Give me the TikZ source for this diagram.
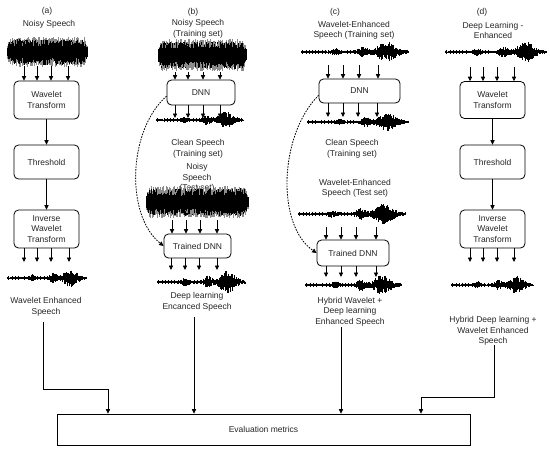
\documentclass[tikz,border=0pt]{standalone}
\usepackage{fontspec}
\setmainfont{Liberation Sans}
\usetikzlibrary{arrows.meta}
% noisy waveform: x1, x2, y-centre, amplitude, seed
\newcommand{\noisywave}[5]{%
  \pgfmathsetseed{#5}%
  \pgfmathtruncatemacro{\nwn}{(#2-#1)/0.4}%
  \foreach \k in {0,...,\nwn}{%
    \pgfmathsetmacro{\xx}{#1+0.4*\k}%
    \pgfmathsetmacro{\wenv}{min(1,min((\xx-#1)/6+0.45,(#2-\xx)/6+0.45))}%
    \pgfmathsetmacro{\aup}{#4*\wenv*(0.5+0.5*rnd)}%
    \pgfmathsetmacro{\adn}{#4*\wenv*(0.5+0.5*rnd)}%
    \draw[black!45,line width=0.45pt] (\xx,#3-\aup) -- (\xx,#3+\adn);
    \pgfmathsetmacro{\bup}{#4*\wenv*(0.4+0.45*rnd)}%
    \pgfmathsetmacro{\bdn}{#4*\wenv*(0.4+0.45*rnd)}%
    \draw[black,line width=0.6pt] (\xx,#3-\bup) -- (\xx,#3+\bdn);
  }%
}
% enhanced / clean waveform: x1, x2, y-centre, amplitude, seed
\newcommand{\cleanwave}[5]{%
  \pgfmathsetseed{#5}%
  \draw[black,line width=0.8pt] (#1,#3) -- (#2,#3);
  \pgfmathtruncatemacro{\cwn}{(#2-#1)/0.5}%
  \foreach \k in {0,...,\cwn}{%
    \pgfmathsetmacro{\xx}{#1+0.5*\k}%
    \pgfmathsetmacro{\tpos}{(\xx-#1)/(#2-#1)}%
    \pgfmathsetmacro{\wenv}{0.16+0.3*exp(-min(9,((\tpos-0.32)/0.04)^2))+0.5*exp(-min(9,((\tpos-0.58)/0.05)^2))+exp(-min(9,((\tpos-0.8)/0.1)^2))}%
    \pgfmathsetmacro{\aup}{#4*\wenv*(0.25+0.75*rnd)}%
    \pgfmathsetmacro{\adn}{#4*\wenv*(0.25+0.75*rnd)}%
    \draw[black,line width=0.45pt] (\xx,#3-\aup) -- (\xx,#3+\adn);
  }%
  \pgfmathtruncatemacro{\twn}{(#2-#1)/3.2}%
  \foreach \k in {1,...,\twn}{%
    \pgfmathsetmacro{\xx}{#1+3.2*\k-1.5}%
    \pgfmathsetmacro{\th}{1.4+1.0*rnd}%
    \draw[black,line width=0.7pt] (\xx,#3-\th) -- (\xx,#3+\th);
  }%
}
\begin{document}
\begin{tikzpicture}[x=1pt,y=-1pt,
  txt/.style={font=\fontsize{8.5}{10.5}\selectfont, text=black!85, align=center, inner sep=0pt},
  box/.style={draw, rounded corners=4.5pt, line width=0.8pt, font=\fontsize{8.5}{10.5}\selectfont, text=black!85, align=center, inner sep=0pt},
  arr/.style={-{Triangle[length=4.5pt,width=4.2pt]}, line width=0.8pt},
  dotarr/.style={-{Triangle[length=4.5pt,width=4.2pt]}, dash pattern=on 1.6pt off 1.2pt, line width=0.8pt}]
\fill[white] (0,0) rectangle (550,453);
\useasboundingbox (0,0) rectangle (550,453);

% ---------------- (a)
\node[txt] (alab) at (47,11) {(a)};
\node[txt] (aname) at (49,24) {Noisy Speech};
\noisywave{7}{87}{52}{15}{11}
\node[box, minimum width=65pt, minimum height=38pt] (awt) at (46.5,100) {Wavelet\\Transform};
\node[box, minimum width=65pt, minimum height=34pt] (ath) at (46.5,162) {Threshold};
\node[box, minimum width=65pt, minimum height=38pt] (aiwt) at (46.5,229) {Inverse\\Wavelet\\Transform};
\foreach \x in {24,37,51,68}{\coordinate (t) at (\x,66); \draw[arr] (t) -- (t |- awt.north);}
\draw[arr] (awt) -- (ath);
\draw[arr] (ath) -- (aiwt);
\foreach \x in {24,37,51,69}{\coordinate (t) at (\x,262); \draw[arr] (t |- aiwt.south) -- (t);}
\cleanwave{7}{86}{278}{8}{12}
\node[txt] (aout) at (46,307) {Wavelet Enhanced\\Speech};

% ---------------- (b)
\node[txt] (blab) at (193,12) {(b)};
\node[txt] (bname) at (198,29) {Noisy Speech\\(Training set)};
\noisywave{158}{246}{55}{16}{21}
\node[box, minimum width=68pt, minimum height=25pt] (bdnn) at (201,92.5) {DNN};
\foreach \x in {175,188,203,220}{\coordinate (t) at (\x,72); \draw[arr] (t) -- (t |- bdnn.north);}
\cleanwave{156}{243}{120}{8}{22}
\foreach \x in {175,188,203,220}{\coordinate (t) at (\x,118); \draw[arr] (t |- bdnn.south) -- (t);}
\node[txt] (bclean) at (198,149) {Clean Speech\\(Training set)};
\node[txt] (btest) at (197,178) {Noisy\\Speech\\(Test set)};
\noisywave{146}{248}{202}{16}{23}
\node[box, minimum width=67pt, minimum height=24pt] (btdnn) at (197.5,246) {Trained DNN};
\foreach \x in {172,186,200,217}{\coordinate (t) at (\x,220); \draw[arr] (t) -- (t |- btdnn.north);}
\cleanwave{157}{245}{282}{10}{24}
\foreach \x in {171,185,199,217}{\coordinate (t) at (\x,270); \draw[arr] (t |- btdnn.south) -- (t);}
\node[txt] (bout) at (197,302) {Deep learning\\Encanced Speech};
\draw[dotarr] (bdnn.186) .. controls (128,130) and (125,215) .. (btdnn.west);

% ---------------- (c)
\node[txt] (clab) at (335,12) {(c)};
\node[txt] (cname) at (354,30.5) {Wavelet-Enhanced\\Speech (Training set)};
\cleanwave{301}{408}{52}{9}{31}
\node[box, minimum width=81pt, minimum height=24pt] (cdnn) at (359.5,91) {DNN};
\foreach \x in {328,343,359,378}{\coordinate (t) at (\x,65); \draw[arr] (t) -- (t |- cdnn.north);}
\cleanwave{307}{408}{122}{8}{32}
\foreach \x in {328,343,358,377}{\coordinate (t) at (\x,117); \draw[arr] (t |- cdnn.south) -- (t);}
\node[txt] (cclean) at (352,149) {Clean Speech\\(Training set)};
\node[txt] (ctest) at (355,188.5) {Wavelet-Enhanced\\Speech (Test set)};
\cleanwave{298}{405}{214}{9}{33}
\node[box, minimum width=72pt, minimum height=26pt] (ctdnn) at (353,253) {Trained DNN};
\foreach \x in {326,341,356,376}{\coordinate (t) at (\x,227); \draw[arr] (t) -- (t |- ctdnn.north);}
\cleanwave{305}{401}{285}{9}{34}
\foreach \x in {326,341,356,376}{\coordinate (t) at (\x,277); \draw[arr] (t |- ctdnn.south) -- (t);}
\node[txt] (cout) at (350,311.5) {Hybrid Wavelet +\\Deep learning\\Enhanced Speech};
\draw[dotarr] (cdnn.186) .. controls (279,135) and (276,225) .. (ctdnn.west);

% ---------------- (d)
\node[txt] (dlab) at (482,12) {(d)};
\node[txt] (dname) at (493,30.5) {Deep Learning -\\Enhanced};
\cleanwave{445}{546}{52}{9}{41}
\node[box, minimum width=65pt, minimum height=37pt] (dwt) at (492.5,100) {Wavelet\\Transform};
\node[box, minimum width=65pt, minimum height=34pt] (dth) at (492.5,162) {Threshold};
\node[box, minimum width=65pt, minimum height=38pt] (diwt) at (492.5,229) {Inverse\\Wavelet\\Transform};
\foreach \x in {470,483,497,514}{\coordinate (t) at (\x,67); \draw[arr] (t) -- (t |- dwt.north);}
\draw[arr] (dwt) -- (dth);
\draw[arr] (dth) -- (diwt);
\foreach \x in {470,483,497,514}{\coordinate (t) at (\x,262); \draw[arr] (t |- diwt.south) -- (t);}
\cleanwave{451}{533}{285}{8}{42}
\node[txt] (dout) at (493,331) {Hybrid Deep learning +\\Wavelet Enhanced\\Speech};

% ---------------- evaluation
\node[draw, line width=0.8pt, minimum width=413pt, minimum height=31pt, txt] (eval) at (263.5,429.5) {Evaluation metrics};
\coordinate (ae) at (43,322); \coordinate (ea) at (108,0);
\draw[arr] (ae) -- ++(0,67) -| (eval.north -| ea);
\coordinate (be) at (194,317);
\draw[arr] (be) -- (be |- eval.north);
\coordinate (ce) at (341,327);
\draw[arr] (ce) -- (ce |- eval.north);
\coordinate (de) at (494,345); \coordinate (ed) at (421,0);
\draw[arr] (de) -- ++(0,52) -| (eval.north -| ed);
\end{tikzpicture}
\end{document}
